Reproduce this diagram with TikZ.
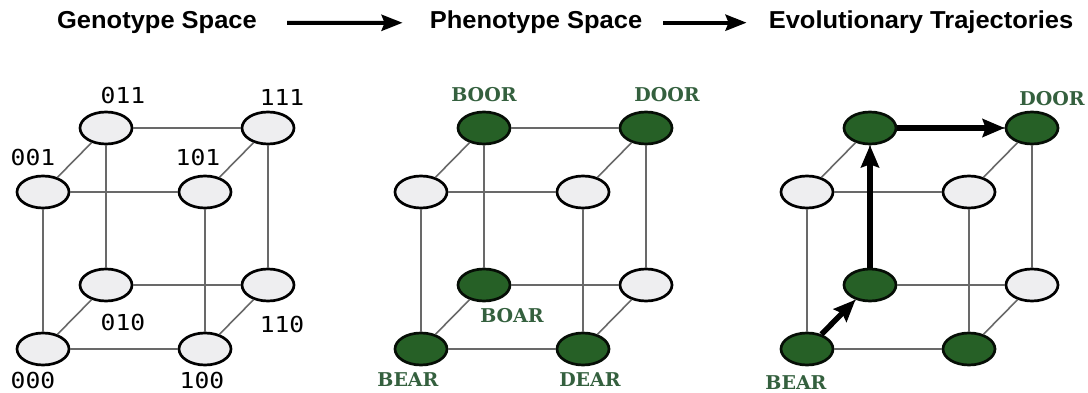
\documentclass[tikz,border=0pt]{standalone}
\usepackage{fontspec}
\usetikzlibrary{positioning,arrows.meta,shapes.geometric}
\newfontfamily\titlefont[FakeStretch=1.04]{Liberation Sans}
\newfontfamily\bitfont[FakeStretch=1.12]{DejaVu Sans Mono}
\newfontfamily\wordfont{DejaVu Serif}
\definecolor{fitgreen}{RGB}{38,96,38}
\definecolor{wordgreen}{RGB}{52,96,62}
\definecolor{edgegray}{RGB}{105,105,105}
\definecolor{nullfill}{RGB}{238,238,240}

\begin{document}
\begin{tikzpicture}[x=1pt,y=-1pt,
  vert/.style={ellipse,draw=black,line width=2.7pt,fill=nullfill,
               minimum width=52pt,minimum height=32pt,inner sep=0pt},
  fitvert/.style={vert,fill=fitgreen,draw=black!85!fitgreen},
  geno0/.style={vert}, geno1/.style={vert},
  pheno0/.style={vert}, pheno1/.style={fitvert},
  evo0/.style={vert}, evo1/.style={fitvert},
  cubeedge/.style={edgegray,line width=1.6pt},
  walk/.style={-{Stealth[length=22pt,width=18pt,inset=3pt]},line width=5.5pt},
  headarrow/.style={-{Stealth[length=21pt,width=16pt,inset=3pt]},line width=4pt},
  headline/.style={font=\titlefont\bfseries\fontsize{24.5}{28}\selectfont,
                   inner sep=0pt,anchor=base},
  bits/.style={font=\bitfont\fontsize{22}{25}\selectfont,inner sep=0pt},
  word/.style={font=\wordfont\bfseries\fontsize{19}{22}\selectfont,text=wordgreen,inner sep=0pt}]
\useasboundingbox (0,0) rectangle (1088,393);

% headings
\node[headline] (geno) at (157,29) {Genotype Space};
\node[headline] (pheno) at (536,29) {Phenotype Space};
\node[headline] (evo) at (921,29) {Evolutionary Trajectories};
\draw[headarrow,shorten <=30pt,shorten >=27pt] (geno) -- (pheno);
\draw[headarrow,shorten <=21pt,shorten >=22pt] (pheno) -- (evo);

% three cubes, vertex named by its bits
\foreach \c/\ox/\s in {g/43/geno,p/421/pheno,e/807/evo} {
  \foreach \a/\b/\z/\k in {0/0/0/1,1/0/0/1,0/1/0/1,1/1/0/0,
                           0/0/1/0,1/0/1/0,0/1/1/1,1/1/1/1} {
    \node[\s\k] (\c\a\b\z) at (\ox+162*\a+63*\b,349-64*\b-157*\z) {};
  }
}
\foreach \c in {g,p,e} {
  \foreach \i in {0,1} \foreach \j in {0,1} {
    \draw[cubeedge] (\c0\i\j) -- (\c1\i\j);
    \draw[cubeedge] (\c\i0\j) -- (\c\i1\j);
    \draw[cubeedge] (\c\i\j0) -- (\c\i\j1);
  }
}

% genotype labels
\node[bits,above=7pt of g011,xshift=17pt] (lg011) {011};
\node[bits,above=5pt of g111,xshift=14pt] (lg111) {111};
\node[bits,above=9pt of g001,xshift=-10pt] (lg001) {001};
\node[bits,above=9pt of g101,xshift=-7pt] (lg101) {101};
\node[bits,below=12pt of g010,xshift=17pt] (lg010) {010};
\node[bits,below=14pt of g110,xshift=14pt] (lg110) {110};
\node[bits,below=6pt of g000,xshift=-10pt] (lg000) {000};
\node[bits,below=6pt of g100,xshift=-3pt] (lg100) {100};

% phenotype labels
\node[word,above=9pt of p011] (boor) {BOOR};
\node[word,above=9pt of p111,xshift=21pt] (door) {DOOR};
\node[word,below=6pt of p010,xshift=28pt] (boar) {BOAR};
\node[word,below=6pt of p000,xshift=-13pt] (bear) {BEAR};
\node[word,below=6pt of p100,xshift=7pt] (dear) {DEAR};

% trajectory
\node[word,above=5pt of e111,xshift=20pt] (edoor) {DOOR};
\node[word,below=9pt of e000,xshift=-11pt] (ebear) {BEAR};
\draw[walk] (e000) -- (e010);
\draw[walk] (e010) -- (e011);
\draw[walk] (e011) -- (e111);
\end{tikzpicture}
\end{document}
